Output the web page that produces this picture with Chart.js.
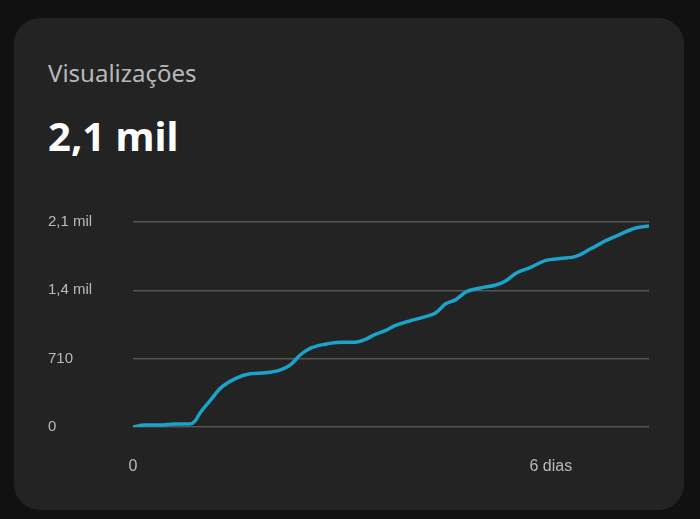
<!DOCTYPE html>
<html><head><meta charset="utf-8">
<script src="https://cdn.jsdelivr.net/npm/chart.js@4"></script>
<style>
body{margin:0;width:700px;height:519px;background:#111;overflow:hidden;font-family:"Noto Sans",sans-serif}
#card{position:absolute;left:14px;top:18px;width:670px;height:492px;background:#232323;border-radius:26px}
#t{position:absolute;left:48px;top:56px;color:#b8b8b8;font-size:24px}
#v{position:absolute;left:48px;top:108px;color:#fff;font-size:40px;font-weight:bold}
#w{position:absolute;left:48px;top:200px;width:612px;height:280px}
</style></head><body>
<div id="card"></div><div id="t">Visualizações</div><div id="v">2,1 mil</div>
<div id="w"><canvas id="c"></canvas></div>
<script>
const days=[0,0.17,0.39,0.6,0.82,0.89,0.96,1.11,1.25,1.47,1.68,1.9,2.12,2.26,2.4,2.55,2.76,2.98,3.19,3.34,3.48,3.63,3.77,3.99,4.2,4.35,4.49,4.63,4.78,4.99,5.21,5.35,5.5,5.71,5.93,6.14,6.36,6.58,6.79,7.01,7.22,7.41];
const views=[0,20,20,31,31,61,143,276,399,502,553,563,594,645,748,819,860,881,881,911,963,1004,1055,1106,1147,1188,1280,1321,1403,1444,1475,1516,1598,1659,1731,1751,1772,1854,1936,2007,2068,2089];
const yTicks=[0,710,1420,2130];
const yLabels=["0","710","1,4 mil","2,1 mil"];
const xTicks=[0,6];
const xLabels=["0","6 dias"];
new Chart(document.getElementById('c'),{type:'line',
data:{datasets:[{data:days.map((d,i)=>({x:d,y:views[i]})),borderColor:'#1ba3c9',borderWidth:3.5,pointRadius:0,tension:0.4,cubicInterpolationMode:'monotone'}]},
options:{responsive:true,maintainAspectRatio:false,animation:false,
layout:{padding:{top:22,right:11,left:0,bottom:0}},
plugins:{legend:{display:false},tooltip:{enabled:false}},
scales:{
x:{type:'linear',min:0,max:7.41,border:{display:false},grid:{display:false},
afterBuildTicks:a=>{a.ticks=xTicks.map(v=>({value:v}))},
afterFit:a=>{a.height=53},
ticks:{padding:22,color:'#bbb',font:{size:16},maxRotation:0,callback:(v)=>xLabels[xTicks.indexOf(v)]}},
y:{min:0,max:2130,border:{display:false},grid:{color:'#555',lineWidth:1.5,drawTicks:false},
afterBuildTicks:a=>{a.ticks=yTicks.map(v=>({value:v}))},
afterFit:a=>{a.width=85},
ticks:{crossAlign:'far',padding:8,color:'#bbb',font:{size:15},callback:(v)=>yLabels[yTicks.indexOf(v)]}}}}});
</script></body></html>
